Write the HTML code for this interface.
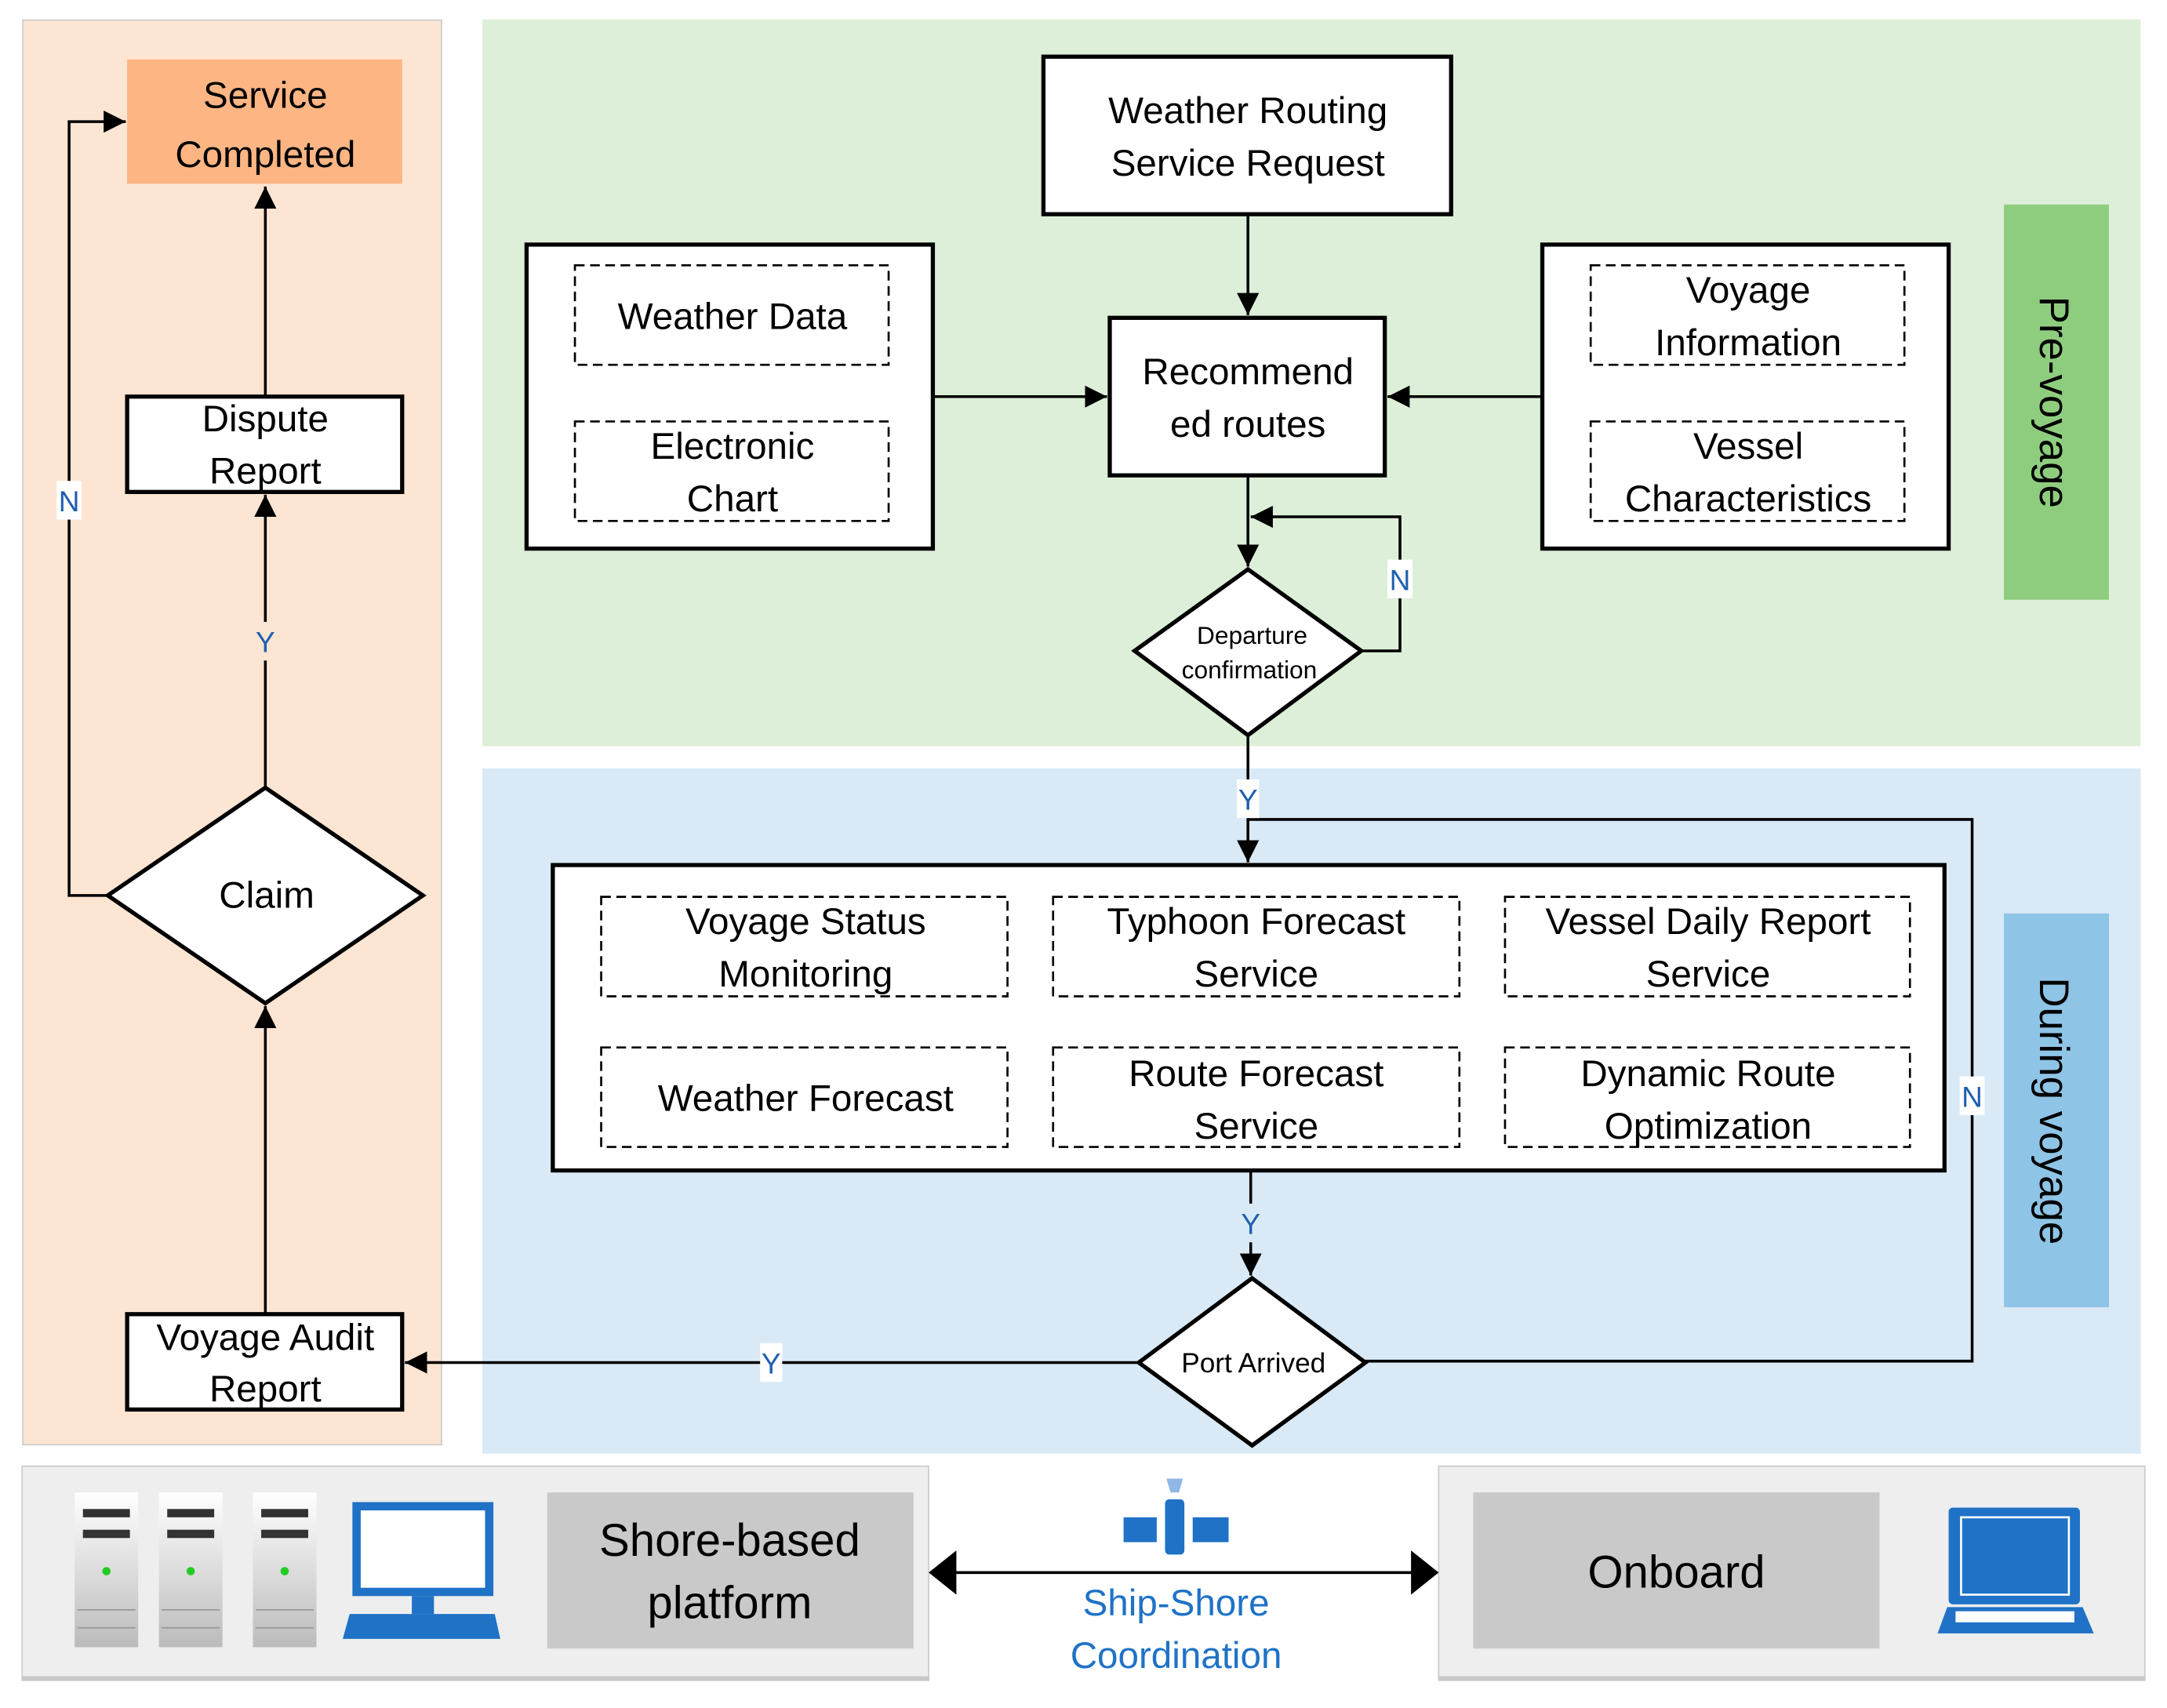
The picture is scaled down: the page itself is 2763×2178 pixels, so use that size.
<!DOCTYPE html>
<html><head><meta charset="utf-8"><style>
html,body{margin:0;padding:0;background:#fff}
svg{display:block}
text{font-family:"Liberation Sans",sans-serif}
</style></head><body>
<svg width="2763" height="2178" viewBox="0 0 1568 1236" xmlns="http://www.w3.org/2000/svg">
<defs>
<marker id="ab" viewBox="0 0 10 10" refX="10" refY="5" markerWidth="16" markerHeight="16" orient="auto" markerUnits="userSpaceOnUse"><path d="M0,0L10,5L0,10z"/></marker>
</defs>
<style>
.b{fill:#fff;stroke:#000;stroke-width:3}
.d{fill:#fff;stroke:#000;stroke-width:1.5;stroke-dasharray:7,4}
.l{fill:none;stroke:#000;stroke-width:2}
.t{font-size:27px;text-anchor:middle}
.y{font-size:21px;fill:#1f5fb0;text-anchor:middle}
</style>
<rect x="16.5" y="14.5" width="303" height="1031" fill="#fde5d3" stroke="#ccc"/>
<rect x="349" y="14" width="1200" height="526" fill="#ddefd8"/>
<rect x="349" y="556" width="1200" height="496" fill="#d9eaf6"/>
<rect x="1450" y="148" width="76" height="286" fill="#8fcd7e"/>
<text transform="translate(1476,291) rotate(90)" font-size="30" text-anchor="middle">Pre-voyage</text>
<rect x="1450" y="661" width="76" height="285" fill="#8ec4e6"/>
<text transform="translate(1476,804) rotate(90)" font-size="30" text-anchor="middle">During voyage</text>

<rect x="92" y="43" width="199" height="90" fill="#fdb584"/>
<text class="t" x="192" y="78" font-size="34">Service</text>
<text class="t" x="192" y="121" font-size="34">Completed</text>
<rect class="b" x="92" y="287" width="199" height="69"/>
<text class="t" x="192" y="312">Dispute</text>
<text class="t" x="192" y="350">Report</text>
<polygon class="b" points="192,570 306,648 192,726 78,648"/>
<text class="t" x="193" y="657">Claim</text>
<rect class="b" x="92" y="951" width="199" height="69"/>
<text class="t" x="192" y="977">Voyage Audit</text>
<text class="t" x="192" y="1014">Report</text>
<path class="l" d="M192,951V728" marker-end="url(#ab)"/>
<path class="l" d="M192,570V358" marker-end="url(#ab)"/>
<path class="l" d="M192,287V135" marker-end="url(#ab)"/>
<path class="l" d="M78,648H50V88H91" marker-end="url(#ab)"/>
<rect x="41" y="348" width="18" height="28" fill="#fff"/><text class="y" x="50" y="370">N</text>
<rect x="184" y="450" width="16" height="28" fill="#fde5d3"/><text class="y" x="192" y="472">Y</text>

<rect class="b" x="755" y="41" width="295" height="114"/>
<text class="t" x="903" y="89">Weather Routing</text>
<text class="t" x="903" y="127">Service Request</text>
<rect class="b" x="381" y="177" width="294" height="220"/>
<rect class="d" x="416" y="192" width="227" height="72"/>
<text class="t" x="530" y="238">Weather Data</text>
<rect class="d" x="416" y="305" width="227" height="72"/>
<text class="t" x="530" y="332">Electronic</text>
<text class="t" x="530" y="370">Chart</text>
<rect class="b" x="1116" y="177" width="294" height="220"/>
<rect class="d" x="1151" y="192" width="227" height="72"/>
<text class="t" x="1265" y="219">Voyage</text>
<text class="t" x="1265" y="257">Information</text>
<rect class="d" x="1151" y="305" width="227" height="72"/>
<text class="t" x="1265" y="332">Vessel</text>
<text class="t" x="1265" y="370">Characteristics</text>
<rect class="b" x="803" y="230" width="199" height="114"/>
<text class="t" x="903" y="278">Recommend</text>
<text class="t" x="903" y="316">ed routes</text>
<path class="l" d="M903,155V228" marker-end="url(#ab)"/>
<path class="l" d="M676,287H801" marker-end="url(#ab)"/>
<path class="l" d="M1116,287H1004" marker-end="url(#ab)"/>
<path class="l" d="M903,344V410" marker-end="url(#ab)"/>
<path class="l" d="M985,471H1013V374H905" marker-end="url(#ab)"/>
<polygon class="b" points="903,412 985,471 903,532 821,471"/>
<text x="906" y="466" font-size="18" text-anchor="middle">Departure</text>
<text x="904" y="491" font-size="18" text-anchor="middle">confirmation</text>
<rect x="1004" y="405" width="18" height="28" fill="#fff"/><text class="y" x="1013" y="427">N</text>

<path class="l" d="M903,532V593H1427V985H988"/>
<path class="l" d="M903,593V624" marker-end="url(#ab)"/>
<rect x="895" y="564" width="16" height="28" fill="#fff"/><text class="y" x="903" y="586">Y</text>
<rect x="1418" y="779" width="18" height="28" fill="#fff"/><text class="y" x="1427" y="801">N</text>
<rect class="b" x="400" y="626" width="1007" height="221"/>
<rect class="d" x="435" y="649" width="294" height="72"/>
<text class="t" x="583" y="676">Voyage Status</text>
<text class="t" x="583" y="714">Monitoring</text>
<rect class="d" x="762" y="649" width="294" height="72"/>
<text class="t" x="909" y="676">Typhoon Forecast</text>
<text class="t" x="909" y="714">Service</text>
<rect class="d" x="1089" y="649" width="293" height="72"/>
<text class="t" x="1236" y="676">Vessel Daily Report</text>
<text class="t" x="1236" y="714">Service</text>
<rect class="d" x="435" y="758" width="294" height="72"/>
<text class="t" x="583" y="804">Weather Forecast</text>
<rect class="d" x="762" y="758" width="294" height="72"/>
<text class="t" x="909" y="786">Route Forecast</text>
<text class="t" x="909" y="824">Service</text>
<rect class="d" x="1089" y="758" width="293" height="72"/>
<text class="t" x="1236" y="786">Dynamic Route</text>
<text class="t" x="1236" y="824">Optimization</text>
<path class="l" d="M905,847V923" marker-end="url(#ab)"/>
<rect x="897" y="871" width="16" height="28" fill="#d9eaf6"/><text class="y" x="905" y="893">Y</text>
<polygon class="b" points="906,925 988,986 906,1046 824,986"/>
<text x="907" y="993" font-size="20" text-anchor="middle">Port Arrived</text>
<path class="l" d="M824,986H293" marker-end="url(#ab)"/>
<rect x="550" y="972" width="16" height="28" fill="#fff"/><text class="y" x="558" y="994">Y</text>

<rect x="16" y="1061" width="656" height="155" fill="#eee" stroke="#ccc"/>
<rect x="16" y="1213" width="656" height="3" fill="#c8c8c8"/>
<rect x="1041" y="1061" width="511" height="155" fill="#eee" stroke="#ccc"/>
<rect x="1041" y="1213" width="511" height="3" fill="#c8c8c8"/>
<rect x="396" y="1080" width="265" height="113" fill="#c9c9c9"/>
<text x="528" y="1126" font-size="33" text-anchor="middle">Shore-based</text>
<text x="528" y="1171" font-size="33" text-anchor="middle">platform</text>
<rect x="1066" y="1080" width="294" height="113" fill="#c9c9c9"/>
<text x="1213" y="1149" font-size="33" text-anchor="middle">Onboard</text>
<defs><linearGradient id="sg" x1="0" x2="0" y1="0" y2="1"><stop offset="0" stop-color="#fff"/><stop offset="1" stop-color="#bbb"/></linearGradient></defs>
<g>
<rect x="54" y="1080" width="46" height="112" fill="url(#sg)"/>
<rect x="115" y="1080" width="46" height="112" fill="url(#sg)"/>
<rect x="183" y="1080" width="46" height="112" fill="url(#sg)"/>
<g fill="#333"><rect x="60" y="1092" width="34" height="6"/><rect x="121" y="1092" width="34" height="6"/><rect x="189" y="1092" width="34" height="6"/>
<rect x="60" y="1107" width="34" height="6"/><rect x="121" y="1107" width="34" height="6"/><rect x="189" y="1107" width="34" height="6"/></g>
<g fill="#2c2"><circle cx="77" cy="1137" r="3"/><circle cx="138" cy="1137" r="3"/><circle cx="206" cy="1137" r="3"/></g>
<g stroke="#999" stroke-width="1"><path d="M56,1165h42M56,1178h42M117,1165h42M117,1178h42M185,1165h42M185,1178h42"/></g>
</g>
<rect x="255" y="1087" width="102" height="68" fill="#1f72c6"/>
<rect x="261" y="1093" width="90" height="56" fill="#fff"/>
<rect x="298" y="1155" width="16" height="13" fill="#1f72c6"/>
<polygon points="253,1168 358,1168 362,1186 248,1186" fill="#1f72c6"/>
<rect x="1410" y="1091" width="95" height="70" rx="3" fill="#1f72c6"/>
<rect x="1419" y="1098" width="78" height="56" fill="none" stroke="#fff" stroke-width="1.5"/>
<polygon points="1409,1163 1507,1163 1515,1182 1402,1182" fill="#1f72c6"/>
<rect x="1415" y="1166" width="86" height="8" fill="#fff"/>
<rect x="813" y="1098" width="24" height="18" fill="#1f72c6"/>
<rect x="863" y="1098" width="26" height="18" fill="#1f72c6"/>
<rect x="843" y="1085" width="14" height="40" rx="3" fill="#1f72c6"/>
<path d="M844,1070h12l-3,10h-6z" fill="#8fb8e8"/>
<path class="l" d="M675,1138H1040" stroke-width="5"/>
<path d="M672,1138l20,-16v32z M1041,1138l-20,-16v32z"/>
<text x="851" y="1169" font-size="27" fill="#1f72c6" text-anchor="middle">Ship-Shore</text>
<text x="851" y="1207" font-size="27" fill="#1f72c6" text-anchor="middle">Coordination</text>
</svg>
</body></html>
